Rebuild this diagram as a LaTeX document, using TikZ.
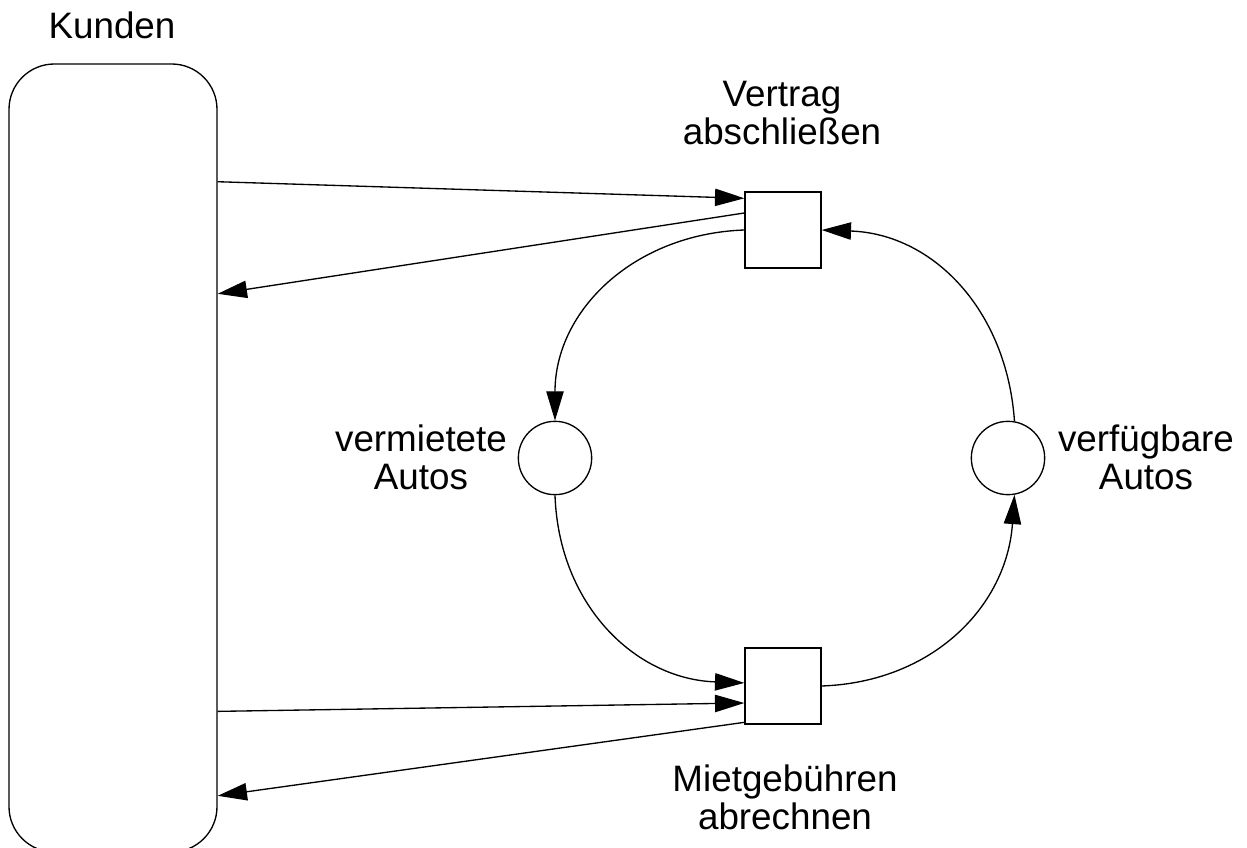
\documentclass[tikz,border=0pt]{standalone}
\usepackage{fontspec}
\setmainfont{Liberation Sans}
\usetikzlibrary{arrows.meta,calc}
\begin{document}
\begin{tikzpicture}[x=0.75pt,y=-0.75pt, line width=1pt,
 arr/.style={-{Triangle[length=22pt,width=13pt]}},
 trans/.style={draw, minimum width=57pt, minimum height=57pt, inner sep=0pt},
 place/.style={draw, circle, minimum size=55pt, inner sep=0pt},
 lbl/.style={align=center, font=\fontsize{27.6}{28.5}\selectfont, inner sep=0pt}]
\useasboundingbox (0,0) rectangle (1247,848);
\begin{scope}
\clip (0,0) rectangle (1247,848);
\node[draw, rounded corners=34pt, minimum width=156pt, minimum height=591pt, inner sep=0pt] (K) at (113,458) {};
\end{scope}
\node[lbl] (KL) at (112,25) {Kunden};
\node[trans] (t1) at (783,230) {};
\node[trans] (t2) at (783,686) {};
\node[place] (p1) at (555,458) {};
\node[place] (p2) at (1008,458) {};
\node[lbl] (t1L) at (782,113) {Vertrag\\abschließen};
\node[lbl] (t2L) at (785,797) {Mietgebühren\\abrechnen};
\node[lbl] (p1L) at (421,457) {vermietete\\Autos};
\node[lbl] (p2L) at (1146,457) {verfügbare\\Autos};
% Kunden <-> transitions
\draw[arr] ($(K.north east)!0.15!(K.south east)$) -- ($(t1.north west)!0.09!(t1.south west)$);
\draw[arr] ($(t1.north west)!0.28!(t1.south west)$) -- ($(K.north east)!0.292!(K.south east)$);
\draw[arr] ($(K.north east)!0.821!(K.south east)$) -- ($(t2.north west)!0.72!(t2.south west)$);
\draw[arr] ($(t2.north west)!0.97!(t2.south west)$) -- ($(K.north east)!0.928!(K.south east)$);
% cycle
\draw[arr] (t1.west) to[out=182,in=90,looseness=1.05] (p1.north);
\draw[arr] (p1.south) to[out=272,in=178,looseness=1.05] ($(t2.north west)!0.46!(t2.south west)$);
\draw[arr] (t2.east) to[out=2,in=266,looseness=1.05] (p2.-80);
\draw[arr] (p2.80) to[out=94,in=-2,looseness=1.05] (t1.east);
\end{tikzpicture}
\end{document}
